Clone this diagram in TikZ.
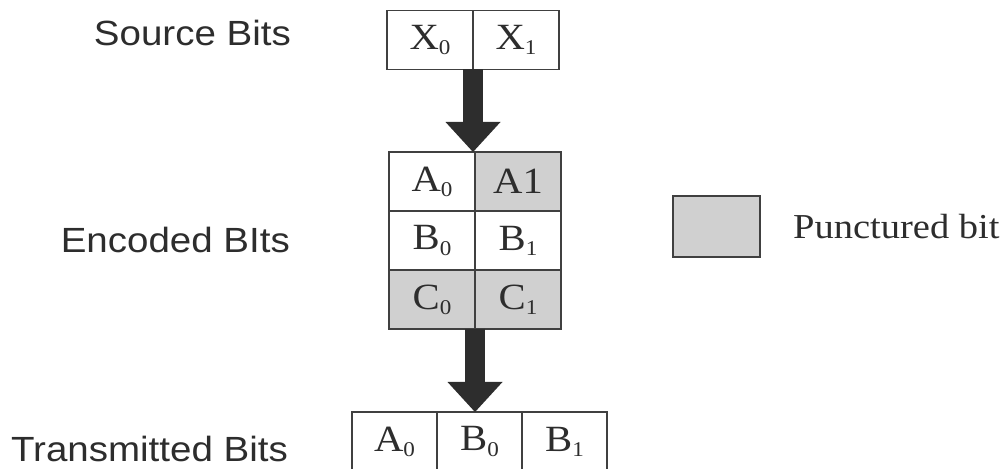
\documentclass[tikz,border=0pt]{standalone}
\usepackage{fontspec}
\setmainfont[FakeStretch=1.1]{Liberation Serif}
\newfontfamily\labelfont[FakeStretch=1.1]{Liberation Sans}
\usepackage{tikz}
\usetikzlibrary{arrows.meta,positioning}
\definecolor{punctgray}{RGB}{208,208,208}
\definecolor{inkgray}{RGB}{45,45,45}
\tikzset{
  cell/.style  ={draw=black!75,line width=1.4pt,minimum width=86pt,minimum height=59pt,
                 inner sep=0pt,outer sep=0pt,text=inkgray,font=\fontsize{37}{40}\selectfont},
  punct/.style ={cell,fill=punctgray},
  rowlbl/.style={anchor=base east,inner sep=0pt,text=inkgray,font=\labelfont\fontsize{35}{40}\selectfont},
  keylbl/.style={inner sep=0pt,text=inkgray,font=\fontsize{35}{40}\selectfont},
  fat/.style   ={-{Triangle[width=55pt,length=30pt,line width=0pt]},line width=20pt,draw=inkgray},
}
\newcommand{\bsub}[1]{\raisebox{-0.14em}{\fontsize{21}{21}\selectfont #1}}

\begin{document}
\begin{tikzpicture}[x=1pt,y=1pt,node distance=0pt]
  \useasboundingbox (0,0) rectangle (1008,468);
  % source row
  \node[cell] (x0) at (430,428) {X\bsub{0}};
  \node[cell, right=of x0] (x1) {X\bsub{1}};
  \node[rowlbl] (srclbl) at (291,422) {Source Bits};
  % encoded block
  \node[cell]  (a0) at (432,286.5) {A\bsub{0}};
  \node[punct, right=of a0] (a1) {A1};
  \node[cell,  below=of a0] (b0) {B\bsub{0}};
  \node[cell,  right=of b0] (b1) {B\bsub{1}};
  \node[punct, below=of b0] (c0) {C\bsub{0}};
  \node[punct, right=of c0] (c1) {C\bsub{1}};
  \node[rowlbl] (enclbl) at (290,215) {Encoded BIts};
  % transmitted row
  \node[cell, minimum width=85pt] (t0) at (394.5,26.5) {A\bsub{0}};
  \node[cell, minimum width=85pt, right=of t0] (t1) {B\bsub{0}};
  \node[cell, minimum width=85pt, right=of t1] (t2) {B\bsub{1}};
  \node[rowlbl] (txlbl) at (288,6) {Transmitted Bits};
  % legend
  \node[punct, minimum width=87pt, minimum height=61pt] (key) at (716.5,241.5) {};
  \node[keylbl, right=33pt of key] (keytxt) {Punctured bit};
  % arrows
  \draw[fat] (x0.south east) -- (x0.south east |- a0.north);
  \draw[fat] (c0.south east) -- (c0.south east |- t1.north);
\end{tikzpicture}
\end{document}
